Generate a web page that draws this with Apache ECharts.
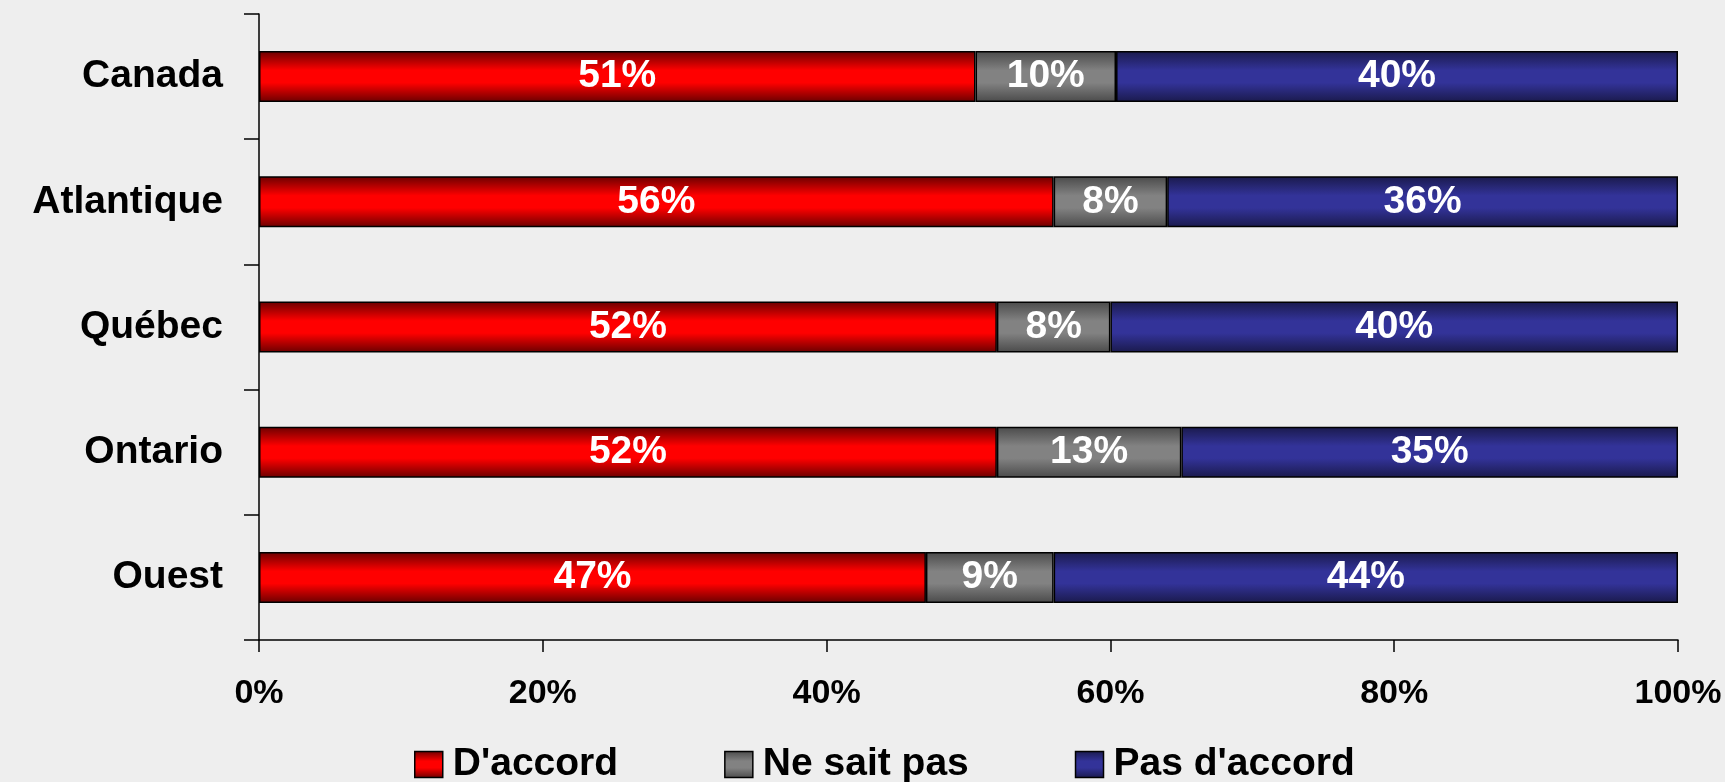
<!DOCTYPE html>
<html>
<head>
<meta charset="utf-8">
<script src="https://cdn.jsdelivr.net/npm/echarts@6/dist/echarts.min.js"></script>
<style>
html,body{margin:0;padding:0;background:#eeeeee;overflow:hidden;}
#chart{width:1725px;height:782px;}
</style>
</head>
<body>
<div id="chart"></div>
<script>
const categories = ["Canada", "Atlantique", "Québec", "Ontario", "Ouest"];
const seriesNames = ["D'accord", "Ne sait pas", "Pas d'accord"];
const agree = [51, 56, 52, 52, 47];
const dontKnow = [10, 8, 8, 13, 9];
const disagree = [40, 36, 40, 35, 44];
const xTicks = [0, 20, 40, 60, 80, 100];

const raw = [agree, dontKnow, disagree];
const totals = categories.map((c, i) => agree[i] + dontKnow[i] + disagree[i]);

function grad(edge, mid) {
  return new echarts.graphic.LinearGradient(0, 0, 0, 1, [
    {offset: 0, color: edge},
    {offset: 0.38, color: mid},
    {offset: 0.62, color: mid},
    {offset: 1, color: edge}
  ]);
}
const fills = [grad('#6a0000', '#ff0000'), grad('#4a4a4a', '#828282'), grad('#1a1a4c', '#333399')];

const chart = echarts.init(document.getElementById('chart'), null, {renderer: 'canvas', width: 1725, height: 782});
const labelFont = '"Liberation Sans", Arial, sans-serif';

chart.setOption({
  backgroundColor: '#eeeeee',
  animation: false,
  grid: {left: 259, right: 47, top: 14, bottom: 142, containLabel: false},
  legend: {
    data: seriesNames,
    left: 414,
    top: 745,
    padding: 0,
    icon: 'rect',
    itemWidth: 28,
    itemHeight: 26,
    itemGap: 106,
    itemStyle: {borderColor: '#000', borderWidth: 1.5},
    textStyle: {fontFamily: labelFont, fontWeight: 'bold', fontSize: 39, lineHeight: 26, color: '#000', padding: [0, 0, 0, 5]}
  },
  xAxis: {
    type: 'value',
    min: 0, max: 100, interval: 20,
    axisLine: {show: true, lineStyle: {color: '#000', width: 1.5}},
    axisTick: {show: true, length: 12, lineStyle: {color: '#000', width: 1.5}},
    splitLine: {show: false},
    axisLabel: {
      formatter: v => v + '%',
      margin: 37,
      color: '#000',
      fontFamily: labelFont,
      fontWeight: 'bold',
      fontSize: 34
    }
  },
  yAxis: {
    type: 'category',
    data: categories,
    inverse: true,
    axisLine: {show: true, lineStyle: {color: '#000', width: 1.5}},
    axisTick: {show: true, length: 15, lineStyle: {color: '#000', width: 1.5}},
    axisLabel: {
      margin: 36,
      color: '#000',
      fontFamily: labelFont,
      fontWeight: 'bold',
      fontSize: 39
    }
  },
  series: seriesNames.map((name, s) => ({
    name: name,
    type: 'bar',
    stack: 'total',
    barWidth: 51,
    data: raw[s].map((v, i) => ({value: v / totals[i] * 100, raw: v})),
    itemStyle: {color: fills[s], borderColor: '#000', borderWidth: 1.5},
    label: {
      show: true,
      position: 'inside',
      color: '#fff',
      fontFamily: labelFont,
      fontWeight: 'bold',
      fontSize: 39,
      formatter: p => p.data.raw + '%'
    }
  }))
});
</script>
</body>
</html>
